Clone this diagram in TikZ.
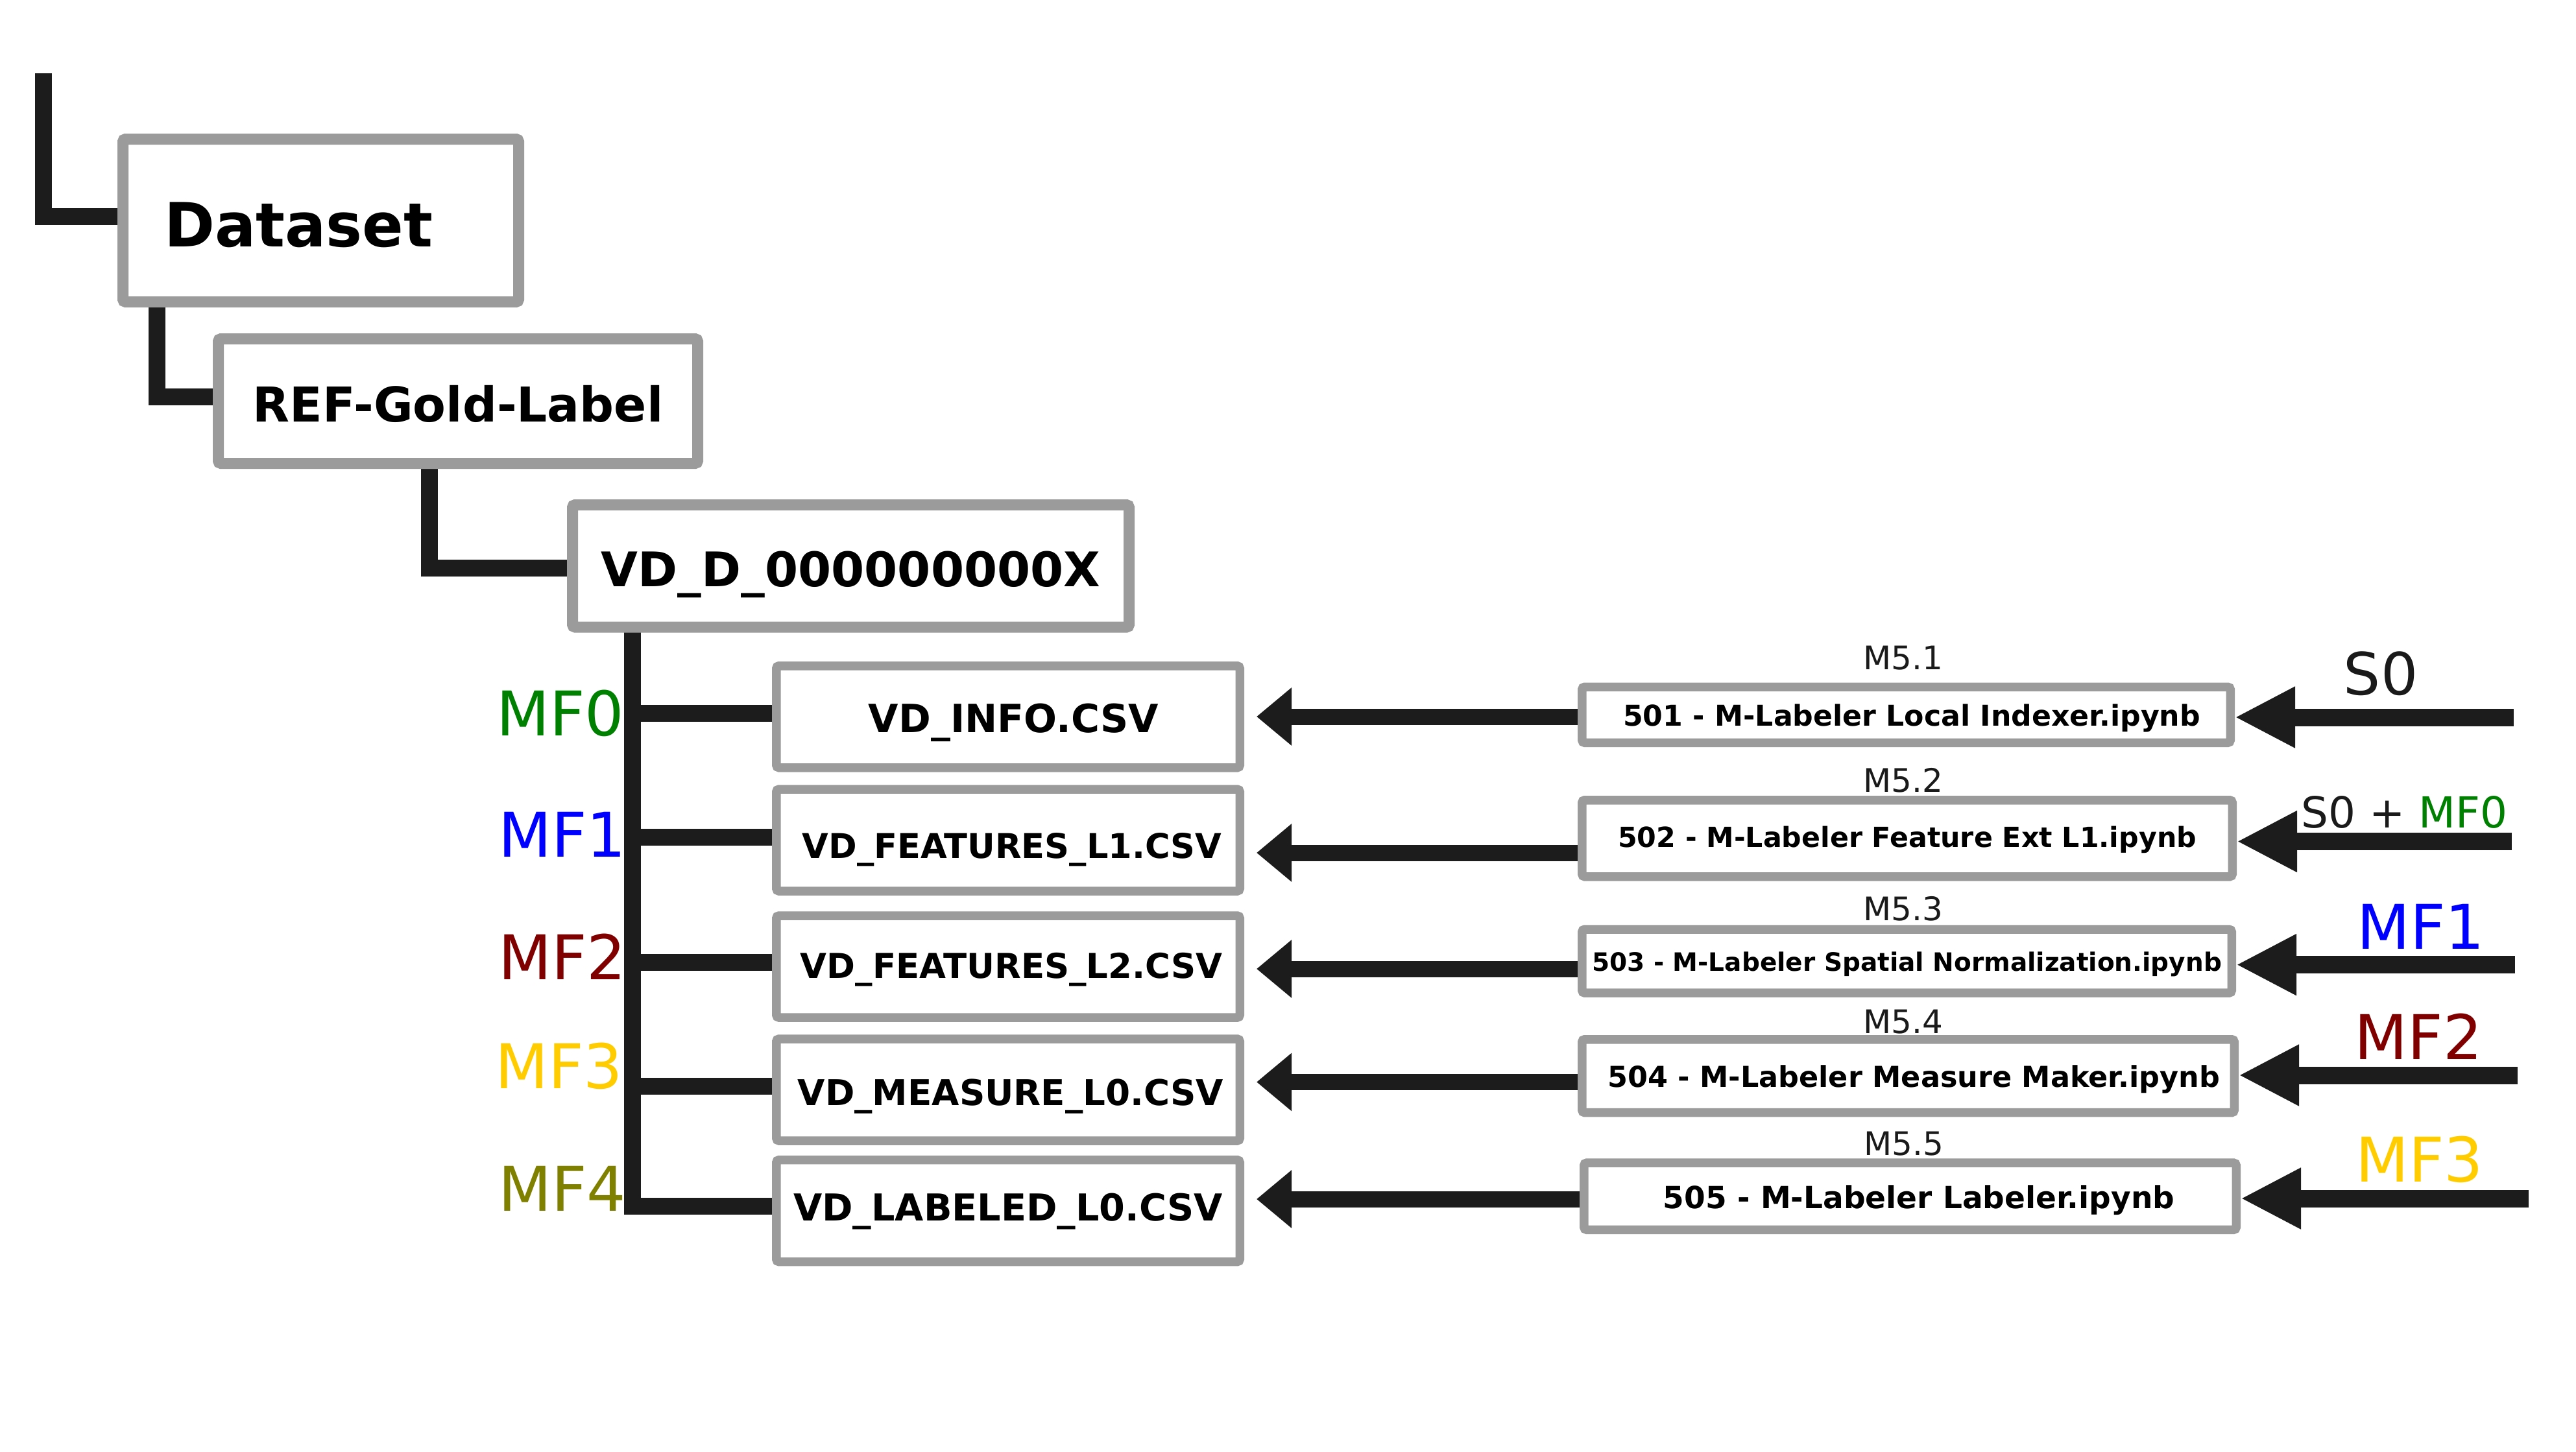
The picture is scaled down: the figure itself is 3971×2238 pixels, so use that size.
\documentclass[tikz,border=0pt]{standalone}
\usepackage{fontspec}
\setmainfont{DejaVu Sans}
\usetikzlibrary{arrows.meta,calc}
\pgfdeclarelayer{bg}
\pgfsetlayers{bg,main}
\definecolor{boxgray}{RGB}{155,155,155}
\definecolor{linedark}{RGB}{28,28,28}
\definecolor{txtdark}{RGB}{26,26,26}
\definecolor{mfgreen}{RGB}{0,128,0}
\definecolor{mfblue}{RGB}{0,0,255}
\definecolor{mfred}{RGB}{128,0,0}
\definecolor{mfgold}{RGB}{255,204,0}
\definecolor{mfolive}{RGB}{128,128,0}
\newcommand\myfs[1]{\fontsize{#1}{#1}\selectfont}
\begin{document}
\begin{tikzpicture}[x=0.25pt,y=-0.25pt,
  bigbox/.style={draw=boxgray, line width=4.25pt, fill=white, rounded corners=1pt,
    inner sep=0pt, outer sep=0pt, text depth=0pt},
  smallbox/.style={bigbox, line width=3.375pt},
  csvbox/.style={smallbox, minimum width=178.625pt, minimum height=39.25pt},
  tree/.style={draw=linedark, line width=6.5pt, line join=miter},
  larrow/.style={draw=linedark, line width=6.25pt, -{Triangle[length=13.5pt,width=21.5pt]}, shorten >=6.44pt},
  rarrow/.style={draw=linedark, line width=6.75pt, -{Triangle[length=23.25pt,width=22pt]}, shorten >=1.69pt},
  mlabel/.style={anchor=base, font=\myfs{12.5pt}, text=txtdark, inner sep=0pt},
  mflabel/.style={anchor=base east, font=\myfs{23.75pt}, inner sep=0pt},
  inlabel/.style={anchor=base, inner sep=0pt}
]
\useasboundingbox (0,0) rectangle (3971,2238);

% tree boxes
\node[bigbox, minimum width=152.5pt, minimum height=62.75pt, text width=120.75pt,
  inner xsep=15.875pt, align=left, text height=20pt, font=\bfseries\myfs{23.5pt}] (ds) at (494.5,340) {Dataset};
\node[bigbox, minimum width=184.75pt, minimum height=48pt, text height=15.75pt,
  font=\bfseries\myfs{18.5pt}] (ref) at (706,618.5) {REF-Gold-Label};
\node[bigbox, minimum width=214.5pt, minimum height=47.125pt, text height=15.625pt,
  font=\bfseries\myfs{18.375pt}] (vd) at (1311.5,872.75) {VD\_D\_000000000X};

% csv boxes
\node[csvbox, text height=12.125pt, font=\bfseries\myfs{15pt}] (c1) at (1554,1105.25) {\hspace*{4.25pt}VD\_INFO.CSV};
\node[csvbox, text height=13.75pt, font=\bfseries\myfs{13.15pt}] (c2) at (1554,1295.55) {\hspace*{3pt}VD\_FEATURES\_L1.CSV};
\node[csvbox, text height=8.75pt, font=\bfseries\myfs{13.225pt}] (c3) at (1554,1490.5) {\hspace*{2.5pt}VD\_FEATURES\_L2.CSV};
\node[csvbox, text height=12.1pt, font=\bfseries\myfs{13.675pt}] (c4) at (1554,1680.5) {\hspace*{2pt}VD\_MEASURE\_L0.CSV};
\node[csvbox, text height=7.45pt, font=\bfseries\myfs{14.3pt}] (c5) at (1554,1867.1) {VD\_LABELED\_L0.CSV};

% notebook boxes
\node[smallbox, minimum width=249.875pt, minimum height=21.5pt, text height=8.575pt,
  font=\bfseries\myfs{11.05pt}] (r1) at (2938.5,1102.25) {\hspace*{4.25pt}501 - M-Labeler Local Indexer.ipynb};
\node[smallbox, minimum width=250.625pt, minimum height=29.5pt, text height=6.625pt,
  font=\bfseries\myfs{10.675pt}] (r2) at (2940,1292.75) {502 - M-Labeler Feature Ext L1.ipynb};
\node[smallbox, minimum width=250.375pt, minimum height=24.5pt, text height=7.45pt,
  font=\bfseries\myfs{9.75pt}] (r3) at (2939.5,1482.1) {503 - M-Labeler Spatial Normalization.ipynb};
\node[smallbox, minimum width=251.375pt, minimum height=28.225pt, text height=8.55pt,
  font=\bfseries\myfs{11.125pt}] (r4) at (2941.5,1659.2) {\hspace*{4.25pt}504 - M-Labeler Measure Maker.ipynb};
\node[smallbox, minimum width=251.375pt, minimum height=25.775pt, text height=9.15pt,
  font=\bfseries\myfs{11.75pt}] (r5) at (2944.5,1844.7) {\hspace*{6.75pt}505 - M-Labeler Labeler.ipynb};

% M5.x labels
\node[mlabel] (m1) at (2934,1032) {M5.1};
\node[mlabel] (m2) at (2934,1221) {M5.2};
\node[mlabel] (m3) at (2934,1419) {M5.3};
\node[mlabel] (m4) at (2934,1593) {M5.4};
\node[mlabel] (m5) at (2935,1781) {M5.5};

% MF labels left
\node[mflabel, text=mfgreen] (mf0) at (963,1134) {MF0};
\node[mflabel, text=mfblue] (mf1) at (966,1321.6) {MF1};
\node[mflabel, text=mfred] (mf2) at (966,1510.5) {MF2};
\node[mflabel, text=mfgold] (mf3) at (961,1678.6) {MF3};
\node[mflabel, text=mfolive] (mf4) at (966,1867) {MF4};

% input labels right
\node[inlabel, font=\myfs{22.5pt}, text=txtdark] (in1) at (3670,1071) {S0};
\node[inlabel, font=\myfs{16.5pt}, text=txtdark] (in2) at (3706.5,1276) {S0 + \textcolor{mfgreen}{MF0}};
\node[inlabel, font=\myfs{23.75pt}, text=mfblue] (in3) at (3731.5,1463) {MF1};
\node[inlabel, font=\myfs{23.75pt}, text=mfred] (in4) at (3728,1633) {MF2};
\node[inlabel, font=\myfs{23.75pt}, text=mfgold] (in5) at (3729.5,1822.7) {MF3};

\begin{pgfonlayer}{bg}
  \coordinate (top) at (67,113);
  \draw[tree] (top) |- ($(ds.west)+(0,-6.5)$);
  \draw[tree] ($(ds.south west)+(52,0)$) |- ($(ref.west)+(0,-6.5)$);
  \draw[tree] ($(ref.south west)+(325,0)$) |- ($(vd.west)+(0,2.75)$);
  \coordinate (t0) at ($(vd.south west)+(92.5,0)$);
  \coordinate (b1) at ($(c1.west)+(0,-5)$);
  \coordinate (b2) at ($(c2.west)+(0,-4.5)$);
  \coordinate (b3) at ($(c3.west)+(0,-6.5)$);
  \coordinate (b4) at ($(c4.west)+(0,-5.5)$);
  \coordinate (b5) at ($(c5.west)+(0,-7)$);
  \draw[tree] (t0) |- (b5);
  \foreach \i in {1,2,3,4} { \draw[tree] (t0 |- b\i) -- (b\i); }

  % arrows notebook -> csv
  \draw[larrow] ($(r1.west)+(0,2.75)$) coordinate (l1) -- (l1 -| c1.east);
  \draw[larrow] ($(r2.west)+(0,22.25)$) coordinate (l2) -- (l2 -| c2.east);
  \draw[larrow] ($(r3.west)+(0,11.9)$) coordinate (l3) -- (l3 -| c3.east);
  \draw[larrow] ($(r4.west)+(0,9.3)$) coordinate (l4) -- (l4 -| c4.east);
  \draw[larrow] ($(r5.west)+(0,4.3)$) coordinate (l5) -- (l5 -| c5.east);

  % input arrows
  \coordinate (e1) at (3875,1106);
  \coordinate (e2) at (3872,1297.5);
  \coordinate (e3) at (3877,1487.6);
  \coordinate (e4) at (3881,1658);
  \coordinate (e5) at (3898,1848);
  \draw[rarrow] (e1) -- (e1 -| r1.east);
  \draw[rarrow] (e2) -- (e2 -| r2.east);
  \draw[rarrow] (e3) -- (e3 -| r3.east);
  \draw[rarrow] (e4) -- (e4 -| r4.east);
  \draw[rarrow] (e5) -- (e5 -| r5.east);
\end{pgfonlayer}
\end{tikzpicture}
\end{document}
